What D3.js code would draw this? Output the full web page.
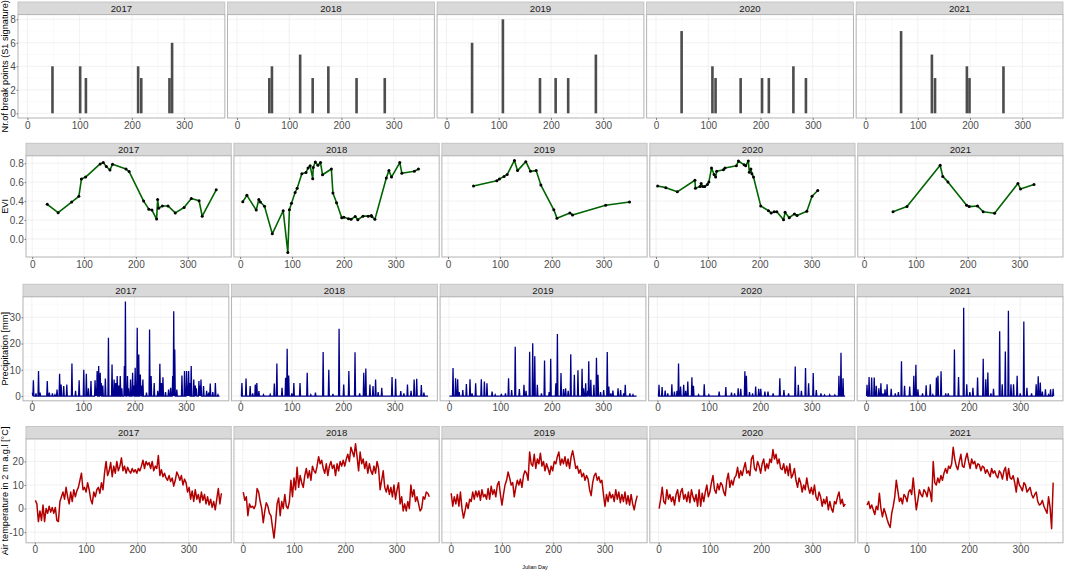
<!DOCTYPE html>
<html>
<head>
<meta charset="utf-8">
<script src="https://cdn.jsdelivr.net/npm/d3@7"></script>
<style>
  body { margin: 0; background: #fff; }
  svg text { font-family: "Liberation Sans", Arial, Helvetica, sans-serif; }
</style>
</head>
<body>
<svg id="chart" width="1065" height="574"></svg>
<script>
var years = ["2017", "2018", "2019", "2020", "2021"];
var xTicks = [0, 100, 200, 300];

// break points per year: [julian day, count]
var breaks2017 = [[48,4],[101,4],[112,3],[212,4],[218,3],[272,3],[277,6]];
var breaks2018 = [[62,3],[67,4],[121,5],[145,3],[175,4],[229,3],[283,3]];
var breaks2019 = [[49,6],[108,8],[179,3],[209,3],[233,3],[286,5]];
var breaks2020 = [[49,7],[108,4],[114,3],[162,3],[203,3],[216,3],[263,4],[287,3]];
var breaks2021 = [[68,7],[127,5],[133,3],[194,4],[199,3],[264,4]];

// EVI: [julian day, EVI]
var evi2017 = [[29,0.366],[50,0.278],[76,0.39],[90,0.45],[95,0.634],[103,0.654],[131,0.793],[137,0.807],[143,0.766],[150,0.729],[155,0.79],[181,0.739],[187,0.712],[215,0.4],[225,0.315],[231,0.305],[240,0.21],[242,0.417],[244,0.325],[251,0.349],[262,0.349],[276,0.275],[293,0.332],[307,0.427],[322,0.403],[328,0.24],[355,0.519]];
var evi2018 = [[5,0.393],[13,0.461],[31,0.305],[36,0.417],[39,0.39],[47,0.346],[62,0.054],[83,0.298],[92,-0.142],[95,0.308],[99,0.376],[106,0.491],[110,0.536],[119,0.688],[127,0.702],[131,0.749],[135,0.773],[140,0.637],[141,0.756],[145,0.814],[150,0.78],[155,0.807],[159,0.678],[176,0.739],[179,0.485],[186,0.383],[196,0.224],[200,0.23],[209,0.214],[214,0.207],[222,0.237],[227,0.203],[237,0.241],[247,0.241],[253,0.247],[254,0.237],[260,0.207],[282,0.644],[287,0.722],[292,0.654],[308,0.807],[312,0.695],[336,0.715],[344,0.739]];
var evi2019 = [[49,0.559],[94,0.614],[99,0.634],[108,0.661],[114,0.681],[128,0.83],[134,0.722],[150,0.817],[159,0.715],[170,0.722],[179,0.569],[204,0.308],[210,0.22],[235,0.275],[240,0.254],[304,0.356],[350,0.39]];
var evi2020 = [[3,0.559],[19,0.542],[41,0.498],[75,0.62],[76,0.536],[85,0.553],[87,0.586],[90,0.553],[94,0.553],[99,0.576],[102,0.603],[107,0.749],[112,0.681],[115,0.654],[117,0.715],[130,0.732],[133,0.749],[155,0.773],[159,0.824],[170,0.783],[173,0.773],[178,0.824],[180,0.705],[183,0.739],[185,0.688],[188,0.654],[202,0.349],[217,0.298],[222,0.275],[228,0.288],[233,0.288],[246,0.203],[249,0.281],[257,0.224],[267,0.264],[272,0.247],[291,0.292],[301,0.451],[312,0.512]];
var evi2021 = [[56,0.288],[83,0.342],[147,0.779],[152,0.661],[162,0.603],[198,0.356],[203,0.342],[219,0.349],[230,0.288],[252,0.271],[297,0.586],[302,0.528],[328,0.576]];
var eviDayLimits = [6, 366];

// precipitation events: [julian day, mm]; all other days are 0
var rain2017 = [[1,1.3],[3,6],[8,1],[13,9.5],[16,1.3],[30,5.7],[34,1.3],[40,1],[45,0.5],[49,2.5],[54,8.5],[57,4.4],[62,3.8],[68,4.4],[78,12.4],[85,2],[92,6],[101,10],[106,8.5],[110,3],[115,5.7],[123,6],[125,3],[127,9.5],[130,11.4],[133,8.9],[135,5],[138,4],[143,6.7],[149,22.2],[156,12],[160,6.3],[163,5],[166,7.6],[169,4],[172,7.6],[175,3],[180,11.4],[182,36],[186,7.6],[188,3],[192,6.3],[196,8.9],[198,4],[201,10.8],[205,26],[208,15.8],[211,8.2],[213,4],[216,6.3],[223,1.3],[229,25.3],[232,7.6],[238,5],[245,2],[249,12.3],[252,5],[255,7.2],[260,1.5],[266,2.5],[270,3.2],[274,7.6],[276,32.3],[278,17.7],[282,2.5],[292,7.8],[297,9.5],[301,9.5],[303,4],[305,9.5],[307,5],[310,11.4],[315,6.3],[318,4],[320,3],[325,5.7],[327,4],[329,6.3],[334,3.8],[340,2],[344,1.3],[347,4.8],[352,1.5],[357,5],[362,0.5]];
var rain2018 = [[3,5],[11,6.7],[19,3.8],[24,1],[29,4.4],[32,5],[36,1.9],[45,0.5],[58,0.6],[66,4.8],[71,12.4],[81,3.2],[88,7],[91,18],[94,7.8],[100,1],[104,5],[116,5],[130,8.9],[137,0.5],[146,1.3],[161,16.8],[172,10],[180,0.8],[192,25.6],[201,4.4],[211,9.5],[223,16.7],[232,1],[240,8.9],[244,10.5],[252,4.4],[258,3.8],[263,6.3],[268,1.5],[275,3.2],[295,7.3],[302,6.6],[312,1.9],[318,1],[325,4.4],[332,2],[338,6.3],[343,6.6],[352,4.2],[357,1.3]];
var rain2019 = [[8,10.7],[13,6.8],[17,6.4],[20,1.5],[27,2.3],[34,4.6],[41,6.4],[45,1],[52,4.9],[63,6.4],[69,5.5],[74,4.9],[84,1.7],[90,0.5],[102,0.8],[110,1],[116,6.8],[122,2.3],[129,18.8],[137,2.7],[146,4.3],[150,2],[157,16.9],[163,20.1],[167,15.2],[172,4.3],[180,1],[186,13.5],[195,1.5],[198,14.2],[208,4.9],[211,23.6],[218,8.8],[223,2.7],[227,3],[232,2],[237,15.9],[244,8.1],[251,9.8],[259,10.4],[262,3],[266,4.9],[270,2],[272,13.3],[276,6.2],[282,4.3],[287,14.6],[290,8.1],[295,1.5],[301,2.3],[308,16.8],[311,3.6],[315,1],[319,2.1],[329,3],[334,2.3],[340,1],[343,4.3],[352,1],[358,0.5]];
var rain2020 = [[3,4.3],[9,3.4],[15,2.1],[20,1],[28,4.5],[33,1.7],[38,2],[41,12.4],[45,3.6],[51,4.3],[55,2],[59,5.5],[67,7.2],[70,3.9],[80,0.5],[91,4.5],[100,0.5],[120,1.7],[133,3.4],[144,1.3],[150,1],[157,3],[162,2.8],[170,9.4],[173,7.7],[179,1.5],[185,1],[191,3.6],[197,2.8],[201,2.8],[209,1.7],[215,1.7],[225,1],[238,6.8],[246,2.3],[255,1],[268,11.3],[274,4.3],[280,2],[288,10.7],[294,4.9],[303,8.8],[309,2.3],[318,1],[325,0.4],[335,0.5],[345,0.4],[353,7.7],[357,16.5],[361,6.8]];
var rain2021 = [[2,4.3],[6,7.3],[11,7.1],[16,7.1],[20,3.9],[25,3],[29,4.9],[33,1],[37,2.6],[41,4.5],[49,2.8],[57,1],[63,1.5],[69,13.3],[75,3.9],[85,3.6],[93,7.7],[97,11.9],[101,2.6],[110,1],[117,4.1],[125,4.5],[130,0.5],[137,7.1],[140,7.7],[146,9.4],[155,1],[160,1],[172,17.7],[180,7.3],[190,33.6],[196,4.5],[202,1.5],[208,3.2],[217,7.1],[228,14.2],[233,6.4],[237,9],[243,1],[248,2.8],[260,24.7],[265,4.5],[271,17],[277,32.5],[282,4.5],[287,4.5],[294,7.7],[300,1],[307,28.4],[313,3.2],[322,1],[331,4.5],[335,7.5],[339,5.2],[343,1.7],[349,2.6],[355,0.5],[359,2.6],[364,2.8]];

// air temperature, one reading every 3rd day starting at day 1
var tempDays = d3.range(1, 366, 3);
var temp2017 = [3.5,2,-5.5,-1,-5,1.5,-5.5,0,-2,1, -1.5,0.5,-2,0.5,-5,-5.5,3,5,7,4, 9,5,2,7,3,8,5,7.5,9,12, 15,8,9,7,11,8,4,2,7,5, 8,9,6.5,11,8,15,20,14,16,19.5, 13.5,18,15,20,16,18,21.5,16,18,15, 17.5,16,15,17,15.5,16.5,15,17,16,18, 20.5,17,20,18.5,19.5,17,20,16,18,17, 22.5,14,16.5,13.5,15,13,12,14,11.5,13, 9.5,12,15.5,14,12,14,10,12.5,11,7, 9,4,7.5,3,8,4,6,2.5,7,3.5, 6,2,5,1.5,4,0.5,3,-0.5,4,8.5, 2,6.5];
var temp2018 = [7,3.5,5,-3,2,0.5,1,0,1.5,8.5, 7,3,0,-6,-1,2.5,1,-2,-3,-8, -12.5,-6,2,4.5,-3,3,0,6,1,0, 3,12,5,13,8,17.5,9,14,11,9, 14,17,13,16,12,18,16,15,18,22, 19,20.5,17,15,19,14,18,20,17,18.5, 14,19,16,20,18,20.5,18,21,23,20, 26,24,22,27.5,22,16,24,19,21,17, 20,15,19,16,14.5,18,15,20,17,8, 12,16,9,7,10,6,9,5,10,4, 8,11,2,5,-1,2,-1,3,0,10, 5,8,3,5,2,-1,0,5,4,7, 6.5,5];
var temp2019 = [6.5,1,5,2,6,1,7,0,-4,-1, 2.5,0,4,3,7,4,7.5,5,7.5,3.5, 8,5,6,4,8.5,4,9.5,6,8,5, 10,11.5,6,1.5,6,10,12,15.5,13,10, 11,5,9,12,10,12.5,9,14,16,15, 12,24,19,18,23,17,21,19,23.5,18, 20,16,19,17,14.5,18,16,20,19,22, 24,18.5,21,19,22,18,21,17,22,24.5, 21,17,18,15,16.5,13.5,15,12,14,12.5, 8,5.5,11,14,15,12,13.5,11,12,6, 1,6,3,7,4.5,6,3,8,4,7, 2.5,6,3,7,2,5.5,1.5,6,2,-0.5, 3,5.5];
var temp2020 = [0,4,9,3,2,8,4,6,3,5, 1.5,6,8,3,7,8.5,4,6,3,7, 2.5,8,5,3,6,1,8,1,6.5,3, 7,10,5,7,11,14,8,6.5,10.5,8, 11,10,7,5.5,12,15,9,12,10,13, 14,17.5,13,16,14,17,19.5,15,16,14, 21,22.5,17,16,20,18,15,19,21,16, 19,17,21,19.5,25,21,23,19,21,17, 16.5,19,15,18,14,19,13,14.5,17,12, 9,13,11,7,10,8,13,9,6.5,9, 6,10,5,3.5,7,5,1,4,2,5, -0.5,3,0,-1.5,3,2,5,7,2,4, 1,2];
var temp2021 = [1.5,3,0,1.5,-0.5,-2.5,1,-0.5,6.5,0, -3.5,0,-2,-4.5,-6.5,-8,-2,1,5,12, 7.5,3,4.5,2,6,5,3,7,8,6, 13,6,-0.5,3.5,8,6,5,8,7,5, 9,7,3,20,11,10,13,11,14,12, 15,17,15,18,17,19,26,21,18,16.5, 20,23,18,17.5,21,23.5,20,17,21,19, 20,17,19,18.5,16,18,17.5,15,16.5,15, 13.5,17,15,16,14,13,16,15,12.5,16, 17.5,12,17,13,12.5,14,11,7,13,10, 9,7.5,11,10,7,8,9,6,4.5,6, 7,3,1.5,2,3.5,1,-0.5,-2,5,0.5, -8.5,11];

var svg = d3.select("#chart");
var gap = 2.7, rightEdge = 1063, stripH = 12.6;
var clipCount = 0;

function expand(ext) {
  var d = (ext[1] - ext[0]) * 0.05;
  return [ext[0] - d, ext[1] + d];
}

// rain events -> one value per day
function daily(events) {
  var days = d3.range(1, 366).map(function(d) { return [d, 0]; });
  events.forEach(function(e) { days[e[0] - 1][1] = e[1]; });
  return days;
}

function styleAxis(g) {
  g.select(".domain").remove();
  g.selectAll(".tick line").attr("stroke", "#333333").attr("stroke-width", 0.6);
  g.selectAll(".tick text").attr("fill", "#4d4d4d").attr("font-size", 10)
    .attr("font-family", '"Liberation Sans", Arial, sans-serif');
}

function drawBars(g, data, x, y) {
  g.selectAll("rect.bar").data(data).join("rect")
    .attr("class", "bar")
    .attr("x", function(d) { return x(d[0] - 2.5); })
    .attr("width", x(5) - x(0))
    .attr("y", function(d) { return y(d[1]); })
    .attr("height", function(d) { return y(0) - y(d[1]); })
    .attr("fill", "#4d4d4d");
}

function drawEvi(g, data, x, y) {
  var line = d3.line().x(function(d) { return x(d[0]); }).y(function(d) { return y(d[1]); });
  g.append("path").datum(data).attr("d", line)
    .attr("fill", "none").attr("stroke", "#006400").attr("stroke-width", 1.6)
    .attr("stroke-linejoin", "round");
  g.selectAll("circle").data(data).join("circle")
    .attr("cx", function(d) { return x(d[0]); })
    .attr("cy", function(d) { return y(d[1]); })
    .attr("r", 1.5).attr("fill", "#000");
}

function drawRain(g, data, x, y) {
  var line = d3.line().x(function(d) { return x(d[0]); }).y(function(d) { return y(d[1]); });
  g.append("path").datum(daily(data)).attr("d", line)
    .attr("fill", "none").attr("stroke", "#00008b").attr("stroke-width", 1.3);
}

function drawTemp(g, data, x, y) {
  var line = d3.line().x(function(d, i) { return x(tempDays[i]); }).y(function(d) { return y(d); });
  g.append("path").datum(data).attr("d", line)
    .attr("fill", "none").attr("stroke", "#b20000").attr("stroke-width", 1.5)
    .attr("stroke-linejoin", "round");
}

function drawRow(cfg) {
  var pw = (rightEdge - cfg.left - gap * 4) / 5;
  var panelTop = cfg.top + stripH;
  var ph = cfg.bottom - panelTop;
  var x = d3.scaleLinear().domain(cfg.xDomain).range([0, pw]);
  var y = d3.scaleLinear().domain(cfg.yDomain).range([ph, 0]);
  var xMinor = [50, 150, 250, 350].filter(function(v) { return v > cfg.xDomain[0] && v < cfg.xDomain[1]; });
  var yMinor = cfg.yMinor.filter(function(v) { return v > cfg.yDomain[0] && v < cfg.yDomain[1]; });

  years.forEach(function(yr, i) {
    var g = svg.append("g")
      .attr("transform", "translate(" + (cfg.left + i * (pw + gap)) + "," + panelTop + ")");

    g.append("rect").attr("y", -stripH).attr("width", pw).attr("height", stripH)
      .attr("fill", "#d9d9d9").attr("stroke", "#bdbdbd").attr("stroke-width", 0.8);
    g.append("text").attr("x", pw / 2).attr("y", -stripH / 2).attr("dy", "0.36em")
      .attr("text-anchor", "middle").attr("font-size", 9.6).attr("fill", "#1a1a1a").text(yr);

    g.append("rect").attr("width", pw).attr("height", ph).attr("fill", "#fff");

    g.selectAll("line.xminor").data(xMinor).join("line").attr("class", "xminor")
      .attr("x1", x).attr("x2", x).attr("y1", 0).attr("y2", ph)
      .attr("stroke", "#f4f4f4").attr("stroke-width", 0.5);
    g.selectAll("line.yminor").data(yMinor).join("line").attr("class", "yminor")
      .attr("y1", y).attr("y2", y).attr("x1", 0).attr("x2", pw)
      .attr("stroke", "#f4f4f4").attr("stroke-width", 0.5);
    g.selectAll("line.xmajor").data(xTicks).join("line").attr("class", "xmajor")
      .attr("x1", x).attr("x2", x).attr("y1", 0).attr("y2", ph)
      .attr("stroke", "#ebebeb").attr("stroke-width", 0.7);
    g.selectAll("line.ymajor").data(cfg.yTicks).join("line").attr("class", "ymajor")
      .attr("y1", y).attr("y2", y).attr("x1", 0).attr("x2", pw)
      .attr("stroke", "#ebebeb").attr("stroke-width", 0.7);

    var id = "clip" + (clipCount++);
    g.append("clipPath").attr("id", id).append("rect").attr("width", pw).attr("height", ph);
    var dg = g.append("g").attr("clip-path", "url(#" + id + ")");
    cfg.draw(dg, cfg.data[i], x, y);

    g.append("rect").attr("width", pw).attr("height", ph)
      .attr("fill", "none").attr("stroke", "#b3b3b3").attr("stroke-width", 1);

    var ax = g.append("g").attr("transform", "translate(0," + ph + ")")
      .call(d3.axisBottom(x).tickValues(xTicks).tickSize(2).tickPadding(1.5));
    styleAxis(ax);

    if (i === 0) {
      var ay = g.append("g")
        .call(d3.axisLeft(y).tickValues(cfg.yTicks).tickFormat(cfg.fmt).tickSize(1.5).tickPadding(0.8));
      styleAxis(ay);
      svg.append("text")
        .attr("transform", "translate(" + cfg.titleX + "," + (panelTop + ph / 2) + ") rotate(-90)")
        .attr("text-anchor", "middle").attr("font-size", 9.2).attr("fill", "#000")
        .text(cfg.title);
    }
  });
}

var breaksAll = [breaks2017, breaks2018, breaks2019, breaks2020, breaks2021];
var eviAll = [evi2017, evi2018, evi2019, evi2020, evi2021];
var rainAll = [rain2017, rain2018, rain2019, rain2020, rain2021];
var tempAll = [temp2017, temp2018, temp2019, temp2020, temp2021];

function flatValues(arrs) {
  return [].concat.apply([], arrs.map(function(a) { return a.map(function(d) { return d[1]; }); }));
}

drawRow({
  top: 2, bottom: 118, left: 18, titleX: 7.5,
  xDomain: expand([0, 360]),
  yDomain: expand([0, d3.max(flatValues(breaksAll))]),
  yTicks: [0, 2, 4, 6, 8], yMinor: [1, 3, 5, 7],
  fmt: function(d) { return String(d); },
  title: "Nr.of break points (S1 signature)",
  data: breaksAll, draw: drawBars
});

drawRow({
  top: 143.2, bottom: 257, left: 26, titleX: 8,
  xDomain: expand(eviDayLimits),
  yDomain: expand(d3.extent(flatValues(eviAll))),
  yTicks: [0, 0.2, 0.4, 0.6, 0.8], yMinor: [-0.1, 0.1, 0.3, 0.5, 0.7, 0.9],
  fmt: d3.format(".1f"),
  title: "EVI",
  data: eviAll, draw: drawEvi
});

drawRow({
  top: 284.2, bottom: 400.8, left: 23, titleX: 7.5,
  xDomain: expand([1, 365]),
  yDomain: expand([0, d3.max(flatValues(rainAll))]),
  yTicks: [0, 10, 20, 30], yMinor: [5, 15, 25, 35],
  fmt: function(d) { return String(d); },
  title: "Precipitation [mm]",
  data: rainAll, draw: drawRain
});

drawRow({
  top: 426.4, bottom: 542.8, left: 26, titleX: 7.5,
  xDomain: expand([1, 365]),
  yDomain: expand(d3.extent([].concat.apply([], tempAll))),
  yTicks: [-10, 0, 10, 20], yMinor: [-15, -5, 5, 15, 25],
  fmt: function(d) { return String(d); },
  title: "Air temperature in 2 m a.g.l [°C]",
  data: tempAll, draw: drawTemp
});

svg.append("text").attr("x", 535).attr("y", 569).attr("text-anchor", "middle")
  .attr("font-size", 5.5).attr("fill", "#000").text("Julian Day");
</script>
</body>
</html>
